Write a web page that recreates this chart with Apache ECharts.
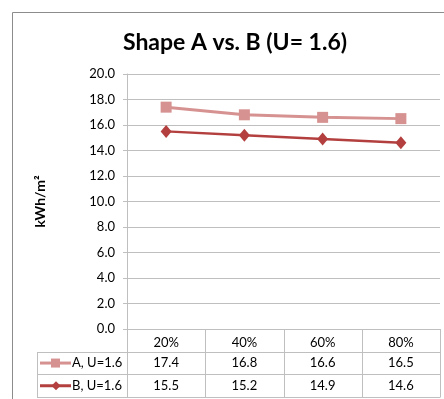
<!DOCTYPE html>
<html>
<head>
<meta charset="utf-8">
<script src="https://cdn.jsdelivr.net/npm/echarts@6/dist/echarts.min.js"></script>
<style>
  html, body { margin: 0; padding: 0; background: #fff; }
  #chart { width: 444px; height: 399px; }
</style>
</head>
<body>
<div id="chart"></div>
<script>
// Categories and series values
const categories = ['20%', '40%', '60%', '80%'];
const seriesAName = 'A, U=1.6';
const seriesBName = 'B, U=1.6';
const seriesA = [17.4, 16.8, 16.6, 16.5];
const seriesB = [15.5, 15.2, 14.9, 14.6];
const yTicks = { min: 0, max: 20, interval: 2 };

// Layout
const FONT = 'Lato, "Liberation Sans", sans-serif';
const GRID = { left: 127, top: 74, width: 313, height: 255 };
const ROW_H = 22.7;
const TABLE_LEFT = 37;
const COLOR_A = '#D69291';
const COLOR_B = '#B3403F';
const LINE_GRAY = '#BFBFBF';

const chart = echarts.init(document.getElementById('chart'), null, { renderer: 'canvas' });

const gBottom = GRID.top + GRID.height;
const gRight = GRID.left + GRID.width;
const colW = GRID.width / categories.length;
const rowY = [gBottom, gBottom + ROW_H, gBottom + 2 * ROW_H, gBottom + 3 * ROW_H];

// Data table beneath the plot
const graphics = [];
function hline(x1, x2, y, color) {
  graphics.push({ type: 'line', silent: true, shape: { x1, y1: y, x2, y2: y },
    style: { stroke: color || LINE_GRAY, lineWidth: 1 } });
}
function vline(x, y1, y2, color) {
  graphics.push({ type: 'line', silent: true, shape: { x1: x, y1, x2: x, y2 },
    style: { stroke: color || LINE_GRAY, lineWidth: 1 } });
}
hline(TABLE_LEFT, gRight, Math.round(rowY[1]) + 0.5);
hline(TABLE_LEFT, gRight, Math.round(rowY[2]) + 0.5);
hline(TABLE_LEFT, gRight, Math.round(rowY[3]) + 0.5);
vline(TABLE_LEFT + 0.5, Math.round(rowY[1]) + 0.5, Math.round(rowY[3]) + 0.5);
vline(GRID.left + 0.5, gBottom, Math.round(rowY[3]) + 0.5);
for (let i = 1; i <= categories.length; i++) {
  const x = Math.round(GRID.left + i * colW) + 0.5;
  vline(x, gBottom, Math.round(rowY[3]) + 0.5);
}

const rows = [
  { name: seriesAName, values: seriesA, color: COLOR_A, marker: 'square' },
  { name: seriesBName, values: seriesB, color: COLOR_B, marker: 'diamond' }
];
rows.forEach((r, ri) => {
  const cy = (rowY[ri + 1] + rowY[ri + 2]) / 2;
  // legend key
  graphics.push({ type: 'line', silent: true,
    shape: { x1: 40, y1: cy, x2: 71, y2: cy },
    style: { stroke: r.color, lineWidth: 3 } });
  if (r.marker === 'square') {
    graphics.push({ type: 'rect', silent: true,
      shape: { x: 51, y: cy - 4.5, width: 9, height: 9 },
      style: { fill: r.color } });
  } else {
    graphics.push({ type: 'polygon', silent: true,
      shape: { points: [[56, cy - 4.5], [60.5, cy], [56, cy + 4.5], [51.5, cy]] },
      style: { fill: r.color } });
  }
  graphics.push({ type: 'text', silent: true,
    style: { x: 72, y: cy, text: r.name, fill: '#000', font: '13px ' + FONT,
      textAlign: 'left', textVerticalAlign: 'middle' } });
  r.values.forEach((v, i) => {
    graphics.push({ type: 'text', silent: true,
      style: { x: GRID.left + (i + 0.5) * colW, y: cy, text: v.toFixed(1),
        fill: '#000', font: '13px ' + FONT, textAlign: 'center', textVerticalAlign: 'middle' } });
  });
});

// Chart frame
graphics.push({ type: 'line', silent: true, shape: { x1: 12.5, y1: 12.5, x2: 444, y2: 12.5 },
  style: { stroke: '#8C8C8C', lineWidth: 1 } });
graphics.push({ type: 'line', silent: true, shape: { x1: 12.5, y1: 12.5, x2: 12.5, y2: 399 },
  style: { stroke: '#8C8C8C', lineWidth: 1 } });

chart.setOption({
  animation: false,
  backgroundColor: '#fff',
  title: {
    text: 'Shape A vs. B (U= 1.6)',
    left: 230, top: 26, textAlign: 'center',
    textStyle: { fontFamily: FONT, fontSize: 23, fontWeight: 'bold', color: '#000' }
  },
  grid: { left: GRID.left, top: GRID.top, width: GRID.width, height: GRID.height, containLabel: false },
  xAxis: {
    type: 'category',
    data: categories,
    boundaryGap: true,
    axisLine: { show: true, lineStyle: { color: LINE_GRAY, width: 1 } },
    axisTick: { show: false },
    axisLabel: { margin: 7, color: '#000', fontFamily: FONT, fontSize: 13 },
    splitLine: { show: false }
  },
  yAxis: {
    type: 'value',
    min: yTicks.min, max: yTicks.max, interval: yTicks.interval,
    name: 'kWh/m²',
    nameLocation: 'middle',
    nameGap: 80,
    nameTextStyle: { fontFamily: FONT, fontSize: 14, fontWeight: 'bold', color: '#000' },
    axisLine: { show: true, lineStyle: { color: LINE_GRAY, width: 1 } },
    axisTick: { show: true, inside: false, length: 4, lineStyle: { color: LINE_GRAY } },
    axisLabel: { margin: 12, color: '#000', fontFamily: FONT, fontSize: 13,
      formatter: v => v.toFixed(1) },
    splitLine: { show: true, lineStyle: { color: LINE_GRAY, width: 1 } }
  },
  series: [
    {
      name: seriesAName, type: 'line', data: seriesA,
      symbol: 'rect', symbolSize: 11,
      lineStyle: { color: COLOR_A, width: 3 },
      itemStyle: { color: COLOR_A }
    },
    {
      name: seriesBName, type: 'line', data: seriesB,
      symbol: 'diamond', symbolSize: [11, 13],
      lineStyle: { color: COLOR_B, width: 2.5 },
      itemStyle: { color: COLOR_B }
    }
  ],
  graphic: graphics
});
</script>
</body>
</html>
